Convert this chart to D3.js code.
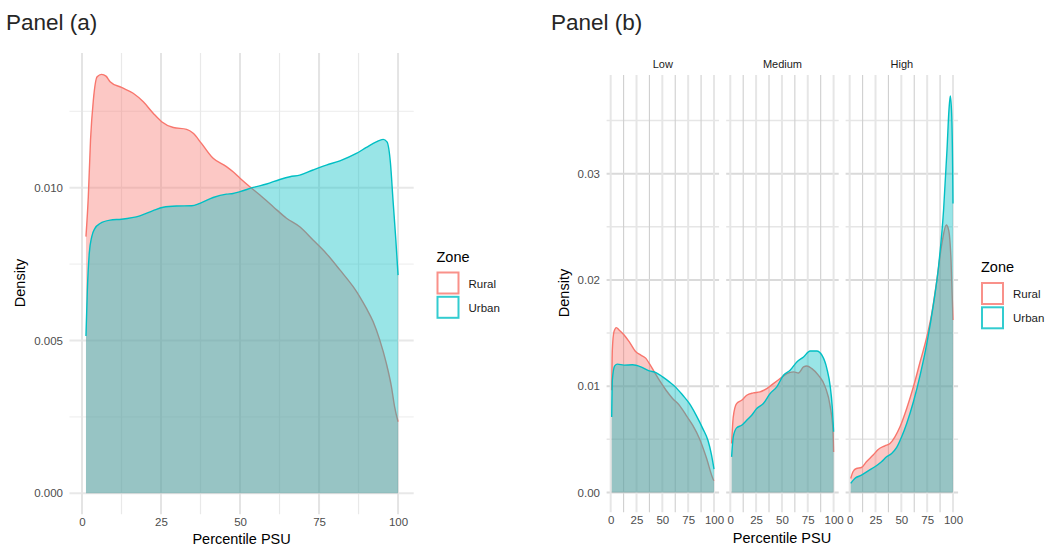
<!DOCTYPE html>
<html>
<head>
<meta charset="utf-8">
<script src="https://cdn.jsdelivr.net/npm/d3@7"></script>
<style>
  html, body { margin: 0; padding: 0; background: #fff; }
  svg { display: block; }
  text { font-family: "Liberation Sans", Arial, sans-serif; }
</style>
</head>
<body>
<svg id="chart" width="1047" height="547"></svg>
<script>
// ---------- data ----------
const zones = ["Rural", "Urban"];
const zoneColors = ["#F8766D", "#00BFC4"];
const facets = ["Low", "Medium", "High"];
const xTicks = [0, 25, 50, 75, 100];
const xMinor = [12.5, 37.5, 62.5, 87.5];
const aYTicks = [0, 0.005, 0.010];
const aYTickLabels = ["0.000", "0.005", "0.010"];
const aYMinor = [0.0025, 0.0075, 0.0125];
const bYTicks = [0, 0.01, 0.02, 0.03];
const bYTickLabels = ["0.00", "0.01", "0.02", "0.03"];
const bYMinor = [0.005, 0.015, 0.025, 0.035];

// Panel (a): density of percentile PSU by zone
const aRural = [[1.26,0.0084],[2,0.0097],[2.7,0.01156],[3.6,0.01287],[4.8,0.01363],[6.2,0.01371],[7.6,0.01365],[8.9,0.01347],[12.5,0.01328],[16.2,0.01309],[19.4,0.01281],[22.6,0.01243],[25.2,0.01216],[28.9,0.01197],[33.1,0.01191],[35.2,0.01178],[37.8,0.01145],[41.5,0.01096],[45.7,0.01069],[47.8,0.01052],[50,0.01031],[53.1,0.01003],[56.3,0.00976],[60.5,0.00938],[64.7,0.009],[68.9,0.00872],[73.1,0.00829],[77.3,0.00785],[81.6,0.00731],[85.8,0.00676],[87.9,0.00643],[90,0.00605],[92.1,0.00562],[94.2,0.00502],[96.3,0.00425],[97.9,0.00349],[98.9,0.00284],[100,0.00234]];
const aUrban = [[1.26,0.00515],[1.7,0.00665],[2.3,0.00785],[3.1,0.0084],[4.1,0.00867],[5.7,0.00883],[8.9,0.00894],[12.5,0.00897],[18.3,0.00908],[22.5,0.00925],[25.7,0.00936],[29.9,0.0094],[34.7,0.00941],[37.3,0.00949],[41.5,0.00968],[45.7,0.00979],[47.8,0.00981],[50,0.00987],[54.2,0.01001],[58.4,0.01012],[62.6,0.01027],[65.8,0.01036],[68.9,0.01041],[73.1,0.01058],[77.3,0.01074],[81.6,0.01088],[86.8,0.01112],[90,0.01132],[93.1,0.0115],[95.3,0.01158],[96.5,0.0115],[97.6,0.0108],[98.4,0.0096],[99.3,0.00829],[100,0.00714]];

// Panel (b): by Low / Medium / High
const bLowRural = [[1,0.00962],[1.6,0.0134],[3.2,0.01514],[5.5,0.01552],[8.1,0.0153],[13,0.01483],[17.9,0.0142],[24.4,0.01325],[29.2,0.01293],[34.1,0.01262],[37.3,0.01215],[42.2,0.01136],[47.1,0.01057],[53.6,0.00962],[60.1,0.00883],[66.6,0.0082],[73.1,0.00726],[79.5,0.00631],[86,0.00505],[92.5,0.00331],[99,0.0013],[100,0.0011]];
const bLowUrban = [[1,0.0071],[1.6,0.01057],[3.9,0.01192],[6.5,0.01208],[13,0.01199],[21.1,0.01202],[29.2,0.01183],[37.3,0.01145],[43.8,0.01129],[50.3,0.01088],[56.8,0.01041],[63.3,0.00987],[69.8,0.00915],[76.3,0.00836],[82.8,0.00726],[89.3,0.00599],[94.2,0.00489],[97.4,0.00363],[100,0.00221]];
const bMedRural = [[1.3,0.00461],[2.9,0.00712],[6.1,0.00837],[11,0.00868],[15.9,0.00915],[22.3,0.00937],[28.8,0.00947],[35.3,0.00978],[41.7,0.01025],[48.2,0.01072],[54.7,0.01119],[61.2,0.01135],[66,0.01125],[70.9,0.01182],[74.1,0.01191],[79,0.01166],[85.4,0.01103],[91.9,0.00994],[96.8,0.00806],[99.4,0.00586],[100,0.00382]];
const bMedUrban = [[1.3,0.00335],[2.9,0.00524],[6.1,0.00608],[11,0.00633],[15.9,0.0068],[20.7,0.00727],[25.6,0.0079],[32,0.00837],[38.5,0.00931],[45,0.00994],[51.5,0.01103],[57.9,0.0115],[64.4,0.01229],[70.9,0.01276],[77.3,0.01332],[83.8,0.01332],[88.7,0.01292],[93.5,0.01166],[96.8,0.00994],[98.7,0.00806],[100,0.00571]];
const bHighRural = [[1,0.00132],[3.2,0.00195],[6.5,0.00226],[11.4,0.00235],[16.2,0.00289],[22.7,0.00352],[27.6,0.00405],[34.1,0.00439],[39,0.00461],[43.8,0.00524],[48.7,0.00618],[55.2,0.00791],[61.7,0.00995],[68.2,0.0123],[74.7,0.01466],[79.5,0.01686],[84.4,0.02],[89.3,0.02345],[93.5,0.02517],[95.8,0.0247],[98.1,0.02188],[100,0.01623]];
const bHighUrban = [[1,0.00085],[4.9,0.00132],[11.4,0.00163],[17.9,0.00204],[24.4,0.00242],[30.8,0.00289],[35.7,0.00336],[40.6,0.00367],[45.5,0.00424],[50.3,0.00524],[55.2,0.0065],[61.7,0.00854],[68.2,0.01105],[74.7,0.01403],[81.2,0.0178],[86,0.02125],[90.9,0.02659],[94.2,0.03223],[96.1,0.036],[97.4,0.03732],[98.7,0.03569],[99.7,0.03035],[100,0.02721]];

const bSeries = [[bLowRural, bLowUrban], [bMedRural, bMedUrban], [bHighRural, bHighUrban]];

// ---------- drawing ----------
const svg = d3.select("#chart");
const FILL_OPACITY = 0.4;
const tickColor = "#4D4D4D";

function drawGrid(g, x, y, xr, yr, style) {
  g.selectAll(null).data(style.yMinor).enter().append("line")
    .attr("x1", xr[0]).attr("x2", xr[1]).attr("y1", d => y(d)).attr("y2", d => y(d))
    .attr("stroke", style.hMinorColor).attr("stroke-width", style.hMinorW);
  g.selectAll(null).data(xMinor).enter().append("line")
    .attr("y1", yr[0]).attr("y2", yr[1]).attr("x1", d => x(d)).attr("x2", d => x(d))
    .attr("stroke", style.vMinorColor).attr("stroke-width", style.vMinorW);
  g.selectAll(null).data(style.yMajor).enter().append("line")
    .attr("x1", xr[0]).attr("x2", xr[1]).attr("y1", d => y(d)).attr("y2", d => y(d))
    .attr("stroke", style.hMajorColor).attr("stroke-width", style.hMajorW);
  g.selectAll(null).data(xTicks).enter().append("line")
    .attr("y1", yr[0]).attr("y2", yr[1]).attr("x1", d => x(d)).attr("x2", d => x(d))
    .attr("stroke", style.vMajorColor).attr("stroke-width", style.vMajorW);
}

function drawDensities(g, x, y, seriesPair) {
  const area = d3.area().x(d => x(d[0])).y0(y(0)).y1(d => y(d[1])).curve(d3.curveMonotoneX);
  const line = d3.line().x(d => x(d[0])).y(d => y(d[1])).curve(d3.curveMonotoneX);
  seriesPair.forEach((s, i) => {
    g.append("path").attr("d", area(s)).attr("fill", zoneColors[i]).attr("fill-opacity", FILL_OPACITY);
    g.append("path").attr("d", line(s)).attr("fill", "none").attr("stroke", zoneColors[i]).attr("stroke-width", 1.4);
  });
}

function drawLegend(x0, titleY, keyY0, step) {
  const g = svg.append("g");
  g.append("text").attr("x", x0).attr("y", titleY).attr("font-size", 14.5).attr("fill", "#000").text("Zone");
  zones.forEach((z, i) => {
    g.append("rect").attr("x", x0 + 1).attr("y", keyY0 + i * step).attr("width", 21).attr("height", 21)
      .attr("fill", "#fff").attr("stroke", zoneColors[i]).attr("stroke-opacity", 0.8).attr("stroke-width", 2);
    g.append("text").attr("x", x0 + 32).attr("y", keyY0 + i * step + 15).attr("font-size", 11.5)
      .attr("fill", "#1A1A1A").text(z);
  });
}

// ----- Panel (a) -----
{
  const xr = [69.5, 413.7], yr = [514.3, 53];
  const x = d3.scaleLinear().domain([-3.95, 104.95]).range(xr);
  const y = d3.scaleLinear().domain([-0.000687, 0.014408]).range(yr);
  const g = svg.append("g");
  drawGrid(g, x, y, xr, yr, {
    yMinor: aYMinor, yMajor: aYTicks,
    hMinorColor: "#F0F0F0", hMinorW: 1.2, hMajorColor: "#E8E8E8", hMajorW: 2,
    vMinorColor: "#E9E9E9", vMinorW: 1.2, vMajorColor: "#E4E4E4", vMajorW: 2
  });
  drawDensities(g, x, y, [aRural, aUrban]);

  const yAxis = d3.axisLeft(y).tickValues(aYTicks).tickFormat((d, i) => aYTickLabels[i]).tickSize(0).tickPadding(0);
  const ya = svg.append("g").attr("transform", `translate(${xr[0] - 6.5},0)`).call(yAxis);
  ya.select(".domain").remove();
  ya.selectAll("text").attr("font-size", 11.5).attr("fill", tickColor).attr("font-family", "Liberation Sans, Arial, sans-serif");

  const xAxis = d3.axisBottom(x).tickValues(xTicks).tickFormat(d3.format("d")).tickSize(0).tickPadding(0);
  const xa = svg.append("g").attr("transform", `translate(0,${yr[0] + 4})`).call(xAxis);
  xa.select(".domain").remove();
  xa.selectAll("text").attr("font-size", 11.5).attr("fill", tickColor).attr("font-family", "Liberation Sans, Arial, sans-serif");

  svg.append("text").attr("x", (xr[0] + xr[1]) / 2).attr("y", 543.5).attr("text-anchor", "middle")
    .attr("font-size", 14.5).attr("fill", "#000").text("Percentile PSU");
  svg.append("text").attr("transform", `translate(25,283) rotate(-90)`).attr("text-anchor", "middle")
    .attr("font-size", 14.5).attr("fill", "#000").text("Density");

  drawLegend(436.5, 262, 272.5, 24.3);

  svg.append("text").attr("x", 6).attr("y", 30).attr("font-family", "Open Sans, sans-serif")
    .attr("font-size", 22.5).attr("fill", "#262626").text("Panel (a)");
}

// ----- Panel (b) -----
{
  const yr = [512.2, 75];
  const y = d3.scaleLinear().domain([-0.001855, 0.039294]).range(yr);
  const facetRanges = [[606.6, 719.1], [726.2, 838.7], [845.6, 958.1]];
  facets.forEach((f, fi) => {
    const xr = facetRanges[fi];
    const x = d3.scaleLinear().domain([-3.95, 104.95]).range(xr);
    const g = svg.append("g");
    drawGrid(g, x, y, xr, yr, {
      yMinor: bYMinor, yMajor: bYTicks,
      hMinorColor: "#E6E6E6", hMinorW: 1.5, hMajorColor: "#DADADA", hMajorW: 1.8,
      vMinorColor: "#CFCFCF", vMinorW: 1.1, vMajorColor: "#E6E6E6", vMajorW: 2
    });
    drawDensities(g, x, y, bSeries[fi]);

    const xAxis = d3.axisBottom(x).tickValues(xTicks).tickFormat(d3.format("d")).tickSize(0).tickPadding(0);
    const xa = svg.append("g").attr("transform", `translate(0,${yr[0] + 4})`).call(xAxis);
    xa.select(".domain").remove();
    xa.selectAll("text").attr("font-size", 11.5).attr("fill", tickColor).attr("font-family", "Liberation Sans, Arial, sans-serif");

    svg.append("text").attr("x", (xr[0] + xr[1]) / 2).attr("y", 68).attr("text-anchor", "middle")
      .attr("font-size", 11).attr("fill", "#1A1A1A").text(f);
  });

  const yAxis = d3.axisLeft(y).tickValues(bYTicks).tickFormat((d, i) => bYTickLabels[i]).tickSize(0).tickPadding(0);
  const ya = svg.append("g").attr("transform", `translate(600,0)`).call(yAxis);
  ya.select(".domain").remove();
  ya.selectAll("text").attr("font-size", 11.5).attr("fill", tickColor).attr("font-family", "Liberation Sans, Arial, sans-serif");

  svg.append("text").attr("x", 782).attr("y", 543).attr("text-anchor", "middle")
    .attr("font-size", 14.5).attr("fill", "#000").text("Percentile PSU");
  svg.append("text").attr("transform", `translate(569,293) rotate(-90)`).attr("text-anchor", "middle")
    .attr("font-size", 14.5).attr("fill", "#000").text("Density");

  drawLegend(981, 272, 283, 24.3);

  svg.append("text").attr("x", 551).attr("y", 30).attr("font-family", "Open Sans, sans-serif")
    .attr("font-size", 22.5).attr("fill", "#262626").text("Panel (b)");
}
</script>
</body>
</html>
